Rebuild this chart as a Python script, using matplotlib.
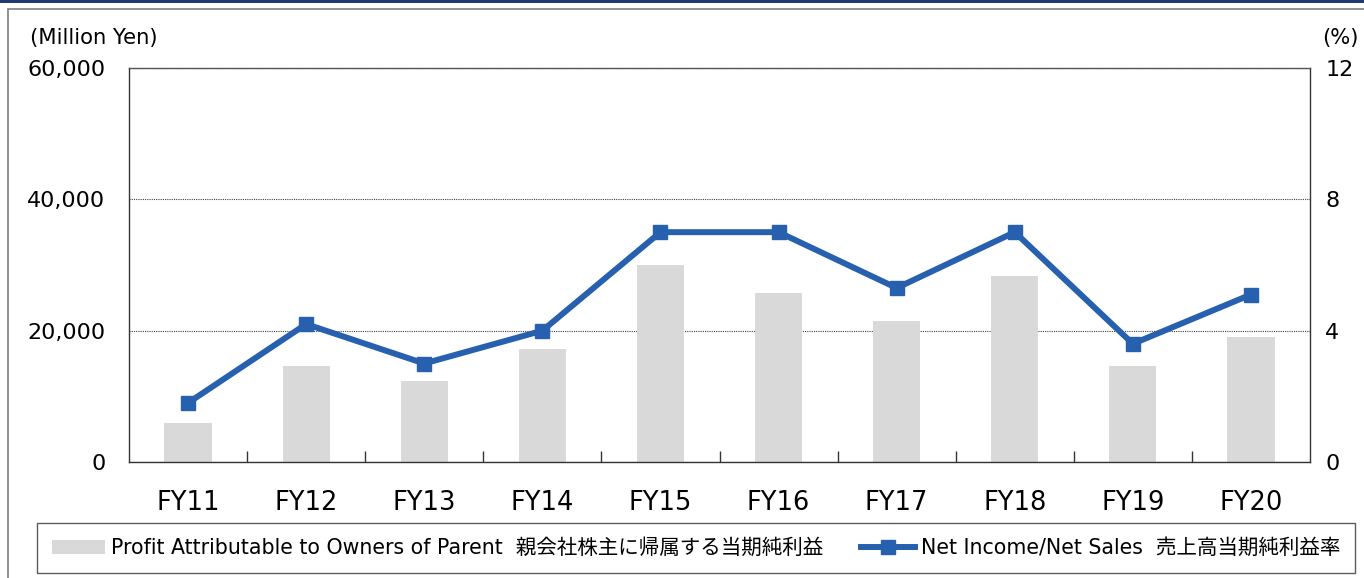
import matplotlib
matplotlib.use("Agg")
import matplotlib.pyplot as plt
from matplotlib.patches import Rectangle
from matplotlib.ticker import FuncFormatter, FixedLocator

# data
annees = ["FY11", "FY12", "FY13", "FY14", "FY15", "FY16", "FY17", "FY18", "FY19", "FY20"]
profit = [5900, 14600, 12300, 17200, 30000, 25700, 21400, 28400, 14600, 19100]
ratio = [1.8, 4.2, 3.0, 4.0, 7.0, 7.0, 5.3, 7.0, 3.6, 5.1]

label_barres = "Profit Attributable to Owners of Parent  親会社株主に帰属する当期純利益"
label_ligne = "Net Income/Net Sales  売上高当期純利益率"

plt.rcParams['font.family'] = ['DejaVu Sans', 'Noto Sans CJK JP']

W, H = 1364, 578
fig = plt.figure(figsize=(W / 100, H / 100), dpi=100)

# cadre exterieur + bande bleue en haut
fig.patches.append(Rectangle((8 / W, -0.1), 1.2, 1 - 9 / H + 0.1, transform=fig.transFigure,
                             fill=False, edgecolor="#7f7f7f", linewidth=1.2))
fig.patches.append(Rectangle((0, 1 - 3 / H), 1, 3 / H, transform=fig.transFigure,
                             facecolor="#1f3b70", edgecolor="none"))

ax = fig.add_axes([129 / W, 1 - 462 / H, (1310 - 129) / W, (462 - 68) / H])
x = range(len(annees))
b = ax.bar(x, profit, width=0.4, color="#d9d9d9", label=label_barres, zorder=2)
ax.set_xlim(-0.5, len(annees) - 0.5)
ax.set_ylim(0, 60000)
ax.set_yticks([0, 20000, 40000, 60000])
ax.yaxis.set_major_formatter(FuncFormatter(lambda v, p: "{:,.0f}".format(v)))
ax.grid(axis="y", linestyle=(0, (1, 1)), color="#404040", linewidth=0.8, zorder=1)
ax.set_xticks(list(x))
ax.set_xticklabels(annees)
ax.xaxis.set_minor_locator(FixedLocator([i + 0.5 for i in range(len(annees) - 1)]))
ax.tick_params(axis="x", which="major", length=0, pad=20, labelsize=18.5)
ax.tick_params(axis="x", which="minor", direction="in", length=8, width=1, color="#333333")
ax.tick_params(axis="y", length=0, pad=17, labelsize=16)
for s in ax.spines.values():
    s.set_color("#333333")
    s.set_linewidth(1)
ax.spines["top"].set_linestyle((0, (1, 1)))
ax.spines["top"].set_color("#555555")

ax2 = ax.twinx()
l, = ax2.plot(x, ratio, color="#2660ae", linewidth=4.3, marker="s", markersize=10,
              label=label_ligne, zorder=3)
ax2.set_ylim(0, 12)
ax2.set_yticks([0, 4, 8, 12])
ax2.tick_params(axis="y", length=0, pad=11, labelsize=16)
for s in ax2.spines.values():
    s.set_visible(False)

fig.text(30 / W, 1 - 38 / H, "(Million Yen)", fontsize=15.2, va="center", ha="left")
fig.text(1322 / W, 1 - 38 / H, "(%)", fontsize=15.2, va="center", ha="left")

leg = fig.legend([b, l], [label_barres, label_ligne], loc="lower left", ncol=2,
                 bbox_to_anchor=(37 / W, 1 - 573 / H, 1318 / W, 48 / H), mode="expand",
                 fontsize=14.8, frameon=True, fancybox=False, handlelength=2.6,
                 handletextpad=0.3, borderaxespad=0, borderpad=0.72)
leg.get_frame().set_edgecolor("#333333")
leg.get_frame().set_linewidth(1)

fig.savefig("out.png", dpi=100)
